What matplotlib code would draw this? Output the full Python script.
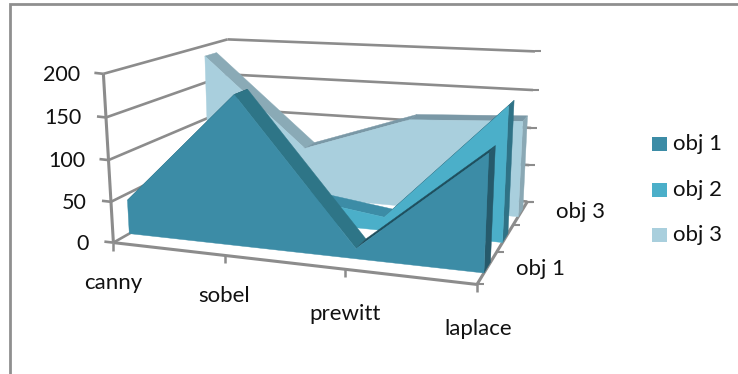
import numpy as np
import matplotlib
matplotlib.use('Agg')
import matplotlib.pyplot as plt
from matplotlib.patches import Polygon, Rectangle

plt.rcParams['font.family'] = ['Lato', 'DejaVu Sans']

categories = ['canny', 'sobel', 'prewitt', 'laplace']
series_names = ['obj 1', 'obj 2', 'obj 3']
obj1 = [42, 178, 12, 132]
obj2 = [20, 36, 17, 162]
obj3 = [186, 68, 116, 123]
value_ticks = [0, 50, 100, 150, 200]

front_cols = ['#3c8ca6', '#4bafc9', '#a9cfdd']
fall_cols = ['#2e7587', '#3c8ca6', '#8aaab6']
rise_cols = ['#1f4f5e', '#2f7286', '#7a98a6']
side_cols = ['#265a6b', '#2f7286', '#8aa8b4']
grid_col = '#8c8c8c'
text_col = '#111111'

# camera: box corner (x, depth, value) -> where it lands on the canvas
box_pts = [(0, 0, 0), (0, 0, 200), (0, 1, 200), (0, 1, 0), (1, 0, 0), (1, 1, 0), (1, 1, 200),
           (1/3, 0, 0), (2/3, 0, 0)]
box_px = [(113, 238), (104, 75), (227, 37), (232, 180), (478, 286), (527, 198), (535, 53),
          (224, 257), (345, 270)]

A = []
b = []
for (x, d, v), (u, w) in zip(box_pts, box_px):
    A.append([x, d, v, 1, 0, 0, 0, 0, -u*x, -u*d, -u*v])
    A.append([0, 0, 0, 0, x, d, v, 1, -w*x, -w*d, -w*v])
    b += [u, w]
cam = np.linalg.lstsq(np.array(A, float), np.array(b, float), rcond=None)[0]
cam = np.append(cam, 1).reshape(3, 4)


def proj(x, d, v):
    p = cam @ np.array([x, d, v, 1.0])
    return p[0] / p[2], p[1] / p[2]


fig = plt.figure(figsize=(7.38, 3.74), dpi=100)
ax = fig.add_axes([0, 0, 1, 1])
ax.set_xlim(0, 738)
ax.set_ylim(374, 0)
ax.axis('off')

# outer frame, only top and left show
ax.plot([10, 10, 738], [374, 4, 4], color='#8f8f8f', lw=2, solid_joinstyle='miter')


def seg(p, q, lw=1.9):
    ax.plot([p[0], q[0]], [p[1], q[1]], color=grid_col, lw=lw, solid_capstyle='butt', zorder=1)


# walls and floor
for v in value_ticks:
    seg(proj(0, 0, v), proj(0, 1, v))
    seg(proj(0, 1, v), proj(1, 1, v))
    p = proj(0, 0, v)
    seg((p[0] - 9, p[1] - 1), p)
    q = proj(1, 1, v)
    seg(q, (q[0] + 6, q[1]), 1.5)
seg(proj(0, 0, 0), proj(0, 0, 200), 2.2)
seg(proj(0, 0, 0), proj(1, 0, 0), 2.2)
seg(proj(1, 0, 0), proj(1, 1, 0), 2.2)
for i in range(4):
    p = proj(i / 3, 0, 0)
    seg(p, (p[0], p[1] + 8), 1.8)
for i in range(4):
    p = proj(1, i / 3, 0)
    seg((p[0] - 1, p[1]), (p[0] + 7, p[1]), 1.5)


def band(vals, slot, z):
    d0 = (slot + 0.5) / 3 - 1 / 18
    d1 = (slot + 0.5) / 3 + 1 / 18
    xs = np.arange(len(vals)) / (len(vals) - 1)
    # top surface, strip by strip
    for i in range(len(vals) - 1):
        col = fall_cols[slot] if vals[i + 1] < vals[i] else rise_cols[slot]
        quad = [proj(xs[i], d0, vals[i]), proj(xs[i], d1, vals[i]),
                proj(xs[i + 1], d1, vals[i + 1]), proj(xs[i + 1], d0, vals[i + 1])]
        ax.add_patch(Polygon(quad, closed=True, fc=col, ec=col, lw=0.3, zorder=z))
    # right end
    cap = [proj(1, d0, vals[-1]), proj(1, d1, vals[-1]), proj(1, d1, 0), proj(1, d0, 0)]
    ax.add_patch(Polygon(cap, closed=True, fc=side_cols[slot], ec=side_cols[slot], lw=0.3, zorder=z))
    # front face
    face = [proj(x, d0, v) for x, v in zip(xs, vals)] + [proj(1, d0, 0), proj(0, d0, 0)]
    ax.add_patch(Polygon(face, closed=True, fc=front_cols[slot], ec=front_cols[slot], lw=0.3, zorder=z + 0.5))


band(obj3, 2, 2)
band(obj2, 1, 3)
band(obj1, 0, 4)

fs = 16
for v, tx in zip(value_ticks, [89, 87, 85, 82, 80]):
    p = proj(0, 0, v)
    ax.text(tx, p[1] + 1, str(v), ha='right', va='center', fontsize=15.5, color=text_col)

for name, (tx, ty) in zip(categories, [(113, 283), (224, 296), (345, 314), (478, 329)]):
    ax.text(tx, ty, name, ha='center', va='center', fontsize=fs, color=text_col)

ax.text(541, 269, series_names[0], ha='center', va='center', fontsize=fs, color=text_col)
ax.text(580, 212, series_names[2], ha='center', va='center', fontsize=fs, color=text_col)

# legend
for name, col, ty in zip(series_names, front_cols, [144, 190, 235]):
    ax.add_patch(Rectangle((652, ty - 7), 15, 14, fc=col, ec='none'))
    ax.text(673, ty, name, ha='left', va='center', fontsize=fs, color=text_col)

fig.savefig('out.png', dpi=100)
